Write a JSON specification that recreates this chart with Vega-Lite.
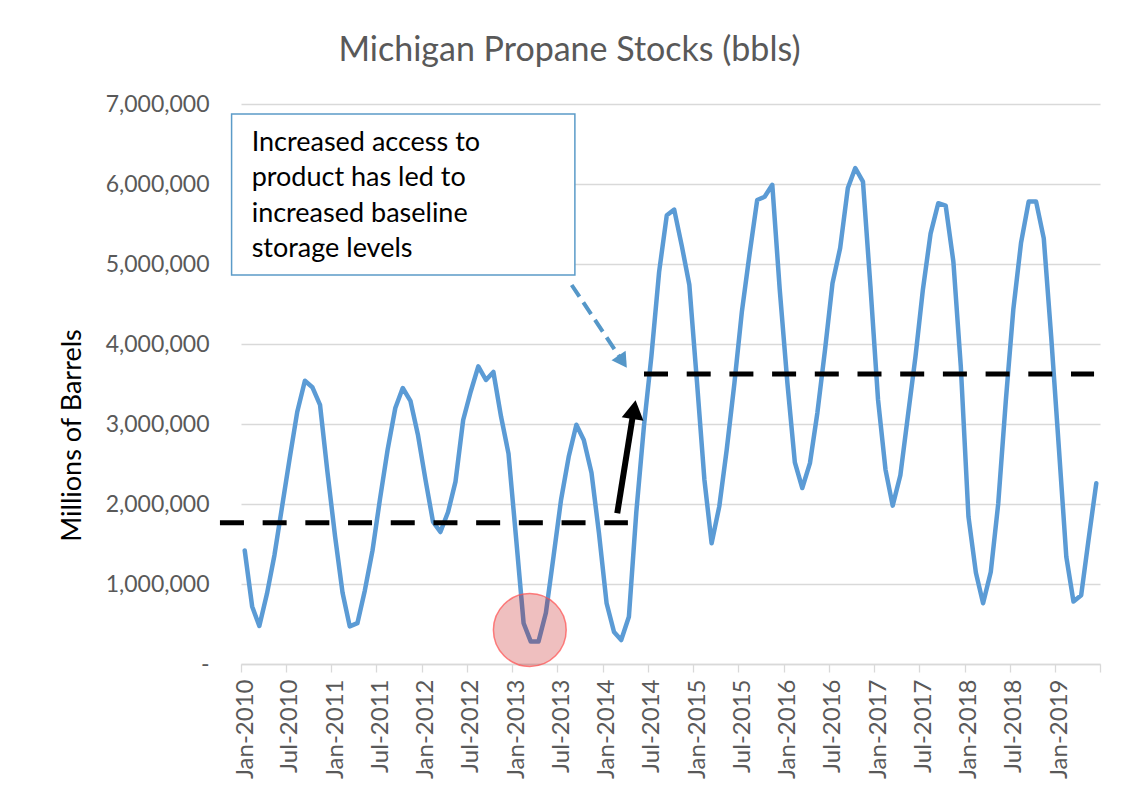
{
  "$schema": "https://vega.github.io/schema/vega-lite/v6.json",
  "width": 859,
  "height": 560,
  "autosize": {"type": "none"},
  "padding": {"left": 241, "top": 104, "right": 27, "bottom": 128},
  "background": "white",
  "config": {"view": {"stroke": null}},
  "title": {
    "text": "Michigan Propane Stocks (bbls)",
    "font": "Lato",
    "fontSize": 34,
    "fontWeight": "normal",
    "color": "#595959",
    "anchor": "middle",
    "frame": "group",
    "dx": -101,
    "baseline": "alphabetic",
    "offset": -1.5
  },
  "datasets": {
    "stocks": [
      {"date": "2010-01-16", "value": 1420000}, {"date": "2010-02-15", "value": 720000}, {"date": "2010-03-16", "value": 475000}, {"date": "2010-04-16", "value": 880000}, {"date": "2010-05-16", "value": 1360000}, {"date": "2010-06-16", "value": 1970000}, {"date": "2010-07-16", "value": 2560000}, {"date": "2010-08-16", "value": 3150000}, {"date": "2010-09-16", "value": 3540000}, {"date": "2010-10-16", "value": 3460000}, {"date": "2010-11-16", "value": 3240000}, {"date": "2010-12-16", "value": 2400000},
      {"date": "2011-01-16", "value": 1590000}, {"date": "2011-02-15", "value": 890000}, {"date": "2011-03-16", "value": 470000}, {"date": "2011-04-16", "value": 510000}, {"date": "2011-05-16", "value": 920000}, {"date": "2011-06-16", "value": 1420000}, {"date": "2011-07-16", "value": 2060000}, {"date": "2011-08-16", "value": 2680000}, {"date": "2011-09-16", "value": 3200000}, {"date": "2011-10-16", "value": 3450000}, {"date": "2011-11-16", "value": 3290000}, {"date": "2011-12-16", "value": 2870000},
      {"date": "2012-01-16", "value": 2300000}, {"date": "2012-02-15", "value": 1780000}, {"date": "2012-03-16", "value": 1650000}, {"date": "2012-04-16", "value": 1900000}, {"date": "2012-05-16", "value": 2280000}, {"date": "2012-06-16", "value": 3050000}, {"date": "2012-07-16", "value": 3400000}, {"date": "2012-08-16", "value": 3720000}, {"date": "2012-09-16", "value": 3550000}, {"date": "2012-10-16", "value": 3650000}, {"date": "2012-11-16", "value": 3090000}, {"date": "2012-12-16", "value": 2630000},
      {"date": "2013-01-16", "value": 1560000}, {"date": "2013-02-15", "value": 510000}, {"date": "2013-03-16", "value": 280000}, {"date": "2013-04-16", "value": 280000}, {"date": "2013-05-16", "value": 640000}, {"date": "2013-06-16", "value": 1350000}, {"date": "2013-07-16", "value": 2050000}, {"date": "2013-08-16", "value": 2590000}, {"date": "2013-09-16", "value": 2990000}, {"date": "2013-10-16", "value": 2800000}, {"date": "2013-11-16", "value": 2390000}, {"date": "2013-12-16", "value": 1640000},
      {"date": "2014-01-16", "value": 760000}, {"date": "2014-02-15", "value": 400000}, {"date": "2014-03-16", "value": 300000}, {"date": "2014-04-16", "value": 590000}, {"date": "2014-05-16", "value": 1900000}, {"date": "2014-06-16", "value": 2980000}, {"date": "2014-07-16", "value": 3850000}, {"date": "2014-08-16", "value": 4900000}, {"date": "2014-09-16", "value": 5610000}, {"date": "2014-10-16", "value": 5680000}, {"date": "2014-11-16", "value": 5220000}, {"date": "2014-12-16", "value": 4740000},
      {"date": "2015-01-16", "value": 3520000}, {"date": "2015-02-15", "value": 2300000}, {"date": "2015-03-16", "value": 1510000}, {"date": "2015-04-16", "value": 1970000}, {"date": "2015-05-16", "value": 2680000}, {"date": "2015-06-16", "value": 3510000}, {"date": "2015-07-16", "value": 4400000}, {"date": "2015-08-16", "value": 5120000}, {"date": "2015-09-16", "value": 5800000}, {"date": "2015-10-16", "value": 5840000}, {"date": "2015-11-16", "value": 5990000}, {"date": "2015-12-16", "value": 4680000},
      {"date": "2016-01-16", "value": 3510000}, {"date": "2016-02-15", "value": 2520000}, {"date": "2016-03-16", "value": 2200000}, {"date": "2016-04-16", "value": 2510000}, {"date": "2016-05-16", "value": 3140000}, {"date": "2016-06-16", "value": 3930000}, {"date": "2016-07-16", "value": 4760000}, {"date": "2016-08-16", "value": 5200000}, {"date": "2016-09-16", "value": 5950000}, {"date": "2016-10-16", "value": 6200000}, {"date": "2016-11-16", "value": 6030000}, {"date": "2016-12-16", "value": 4730000},
      {"date": "2017-01-16", "value": 3300000}, {"date": "2017-02-15", "value": 2430000}, {"date": "2017-03-16", "value": 1980000}, {"date": "2017-04-16", "value": 2360000}, {"date": "2017-05-16", "value": 3090000}, {"date": "2017-06-16", "value": 3840000}, {"date": "2017-07-16", "value": 4680000}, {"date": "2017-08-16", "value": 5380000}, {"date": "2017-09-16", "value": 5760000}, {"date": "2017-10-16", "value": 5730000}, {"date": "2017-11-16", "value": 5030000}, {"date": "2017-12-16", "value": 3720000},
      {"date": "2018-01-16", "value": 1840000}, {"date": "2018-02-15", "value": 1140000}, {"date": "2018-03-16", "value": 760000}, {"date": "2018-04-16", "value": 1150000}, {"date": "2018-05-16", "value": 2000000}, {"date": "2018-06-16", "value": 3300000}, {"date": "2018-07-16", "value": 4430000}, {"date": "2018-08-16", "value": 5260000}, {"date": "2018-09-16", "value": 5780000}, {"date": "2018-10-16", "value": 5780000}, {"date": "2018-11-16", "value": 5320000}, {"date": "2018-12-16", "value": 4090000},
      {"date": "2019-01-16", "value": 2700000}, {"date": "2019-02-15", "value": 1340000}, {"date": "2019-03-16", "value": 780000}, {"date": "2019-04-16", "value": 860000}, {"date": "2019-05-16", "value": 1560000}, {"date": "2019-06-16", "value": 2260000}
    ],
    "levels": [
      {"date": "2009-10-08", "date2": "2014-04-12", "value": 1766000},
      {"date": "2014-06-16", "date2": "2019-06-07", "value": 3625000}
    ],
    "box": [
      {"date": "2009-11-24", "date2": "2013-09-10", "value": 6875000, "value2": 4862500}
    ],
    "note": [
      {"date": "2010-02-13", "value": 6416000, "text": "Increased access to"},
      {"date": "2010-02-13", "value": 5975000, "text": "product has led to"},
      {"date": "2010-02-13", "value": 5529000, "text": "increased baseline"},
      {"date": "2010-02-13", "value": 5091000, "text": "storage levels"}
    ],
    "blueShaft": [
      {"date": "2013-08-28", "date2": "2014-03-07", "value": 4737500, "value2": 3850000}
    ],
    "blueHead": [
      {"date": "2014-03-22", "value": 3780000}
    ],
    "blackShaft": [
      {"date": "2014-02-28", "date2": "2014-05-03", "value": 1884000, "value2": 3125000}
    ],
    "blackHead": [
      {"date": "2014-05-07", "value": 3180000}
    ],
    "trough": [
      {"date": "2013-03-12", "value": 425000}
    ]
  },
  "encoding": {
    "x": {
      "field": "date",
      "type": "temporal",
      "scale": {
        "type": "utc",
        "domain": [
          {"year": 2010, "month": 1, "date": 1, "utc": true},
          {"year": 2019, "month": 7, "date": 1, "utc": true}
        ]
      },
      "axis": {
        "title": null,
        "format": "%b-%Y",
        "tickCount": {"interval": "month", "step": 6},
        "labelExpr": "utcyear(datum.value) == 2019 && utcmonth(datum.value) == 6 ? '' : datum.label",
        "labelAngle": -90,
        "labelAlign": "right",
        "labelBaseline": "middle",
        "labelFont": "Lato",
        "labelFontSize": 24,
        "labelColor": "#595959",
        "labelPadding": 7,
        "labelOffset": 4,
        "labelOverlap": false,
        "labelFlush": false,
        "labelBound": false,
        "tickSize": 8,
        "tickColor": "#d9d9d9",
        "tickWidth": 1.3,
        "domainColor": "#d9d9d9",
        "domainWidth": 1.5,
        "grid": false
      }
    },
    "y": {
      "field": "value",
      "type": "quantitative",
      "scale": {"domain": [0, 7000000], "nice": false, "zero": false},
      "axis": {
        "values": [0, 1000000, 2000000, 3000000, 4000000, 5000000, 6000000, 7000000],
        "labelExpr": "datum.value == 0 ? '-\u00a0\u00a0\u00a0' : format(datum.value, ',')",
        "labelFont": "Lato",
        "labelFontSize": 23,
        "labelColor": "#595959",
        "labelPadding": 32,
        "ticks": false,
        "domain": false,
        "grid": true,
        "gridColor": "#d9d9d9",
        "gridWidth": 1.3,
        "title": "Millions of Barrels",
        "titleFont": "Lato",
        "titleFontSize": 27,
        "titleFontWeight": "normal",
        "titleColor": "#000000",
        "titleAngle": -90,
        "titleAlign": "center",
        "titleBaseline": "middle",
        "titleX": -169,
        "titleY": 331
      }
    }
  },
  "layer": [
    {
      "data": {"name": "box"},
      "mark": {"type": "rect", "fill": "white", "stroke": "#5b9bc8", "strokeWidth": 1.5},
      "encoding": {"x2": {"field": "date2"}, "y2": {"field": "value2"}}
    },
    {
      "data": {"name": "note"},
      "mark": {"type": "text", "font": "Lato", "fontSize": 27, "color": "#000000", "align": "left", "baseline": "alphabetic"},
      "encoding": {"text": {"field": "text"}}
    },
    {
      "data": {"name": "stocks"},
      "mark": {"type": "line", "color": "#5b9bd5", "strokeWidth": 4.5, "strokeJoin": "round", "strokeCap": "round"},
      "encoding": {}
    },
    {
      "data": {"name": "levels"},
      "mark": {"type": "rule", "color": "#000000", "strokeWidth": 5, "strokeDash": [24, 18.7], "strokeCap": "butt"},
      "encoding": {"x2": {"field": "date2"}}
    },
    {
      "data": {"name": "blueShaft"},
      "mark": {"type": "rule", "color": "#5597c8", "strokeWidth": 4, "strokeDash": [14, 7], "strokeCap": "butt"},
      "encoding": {"x2": {"field": "date2"}, "y2": {"field": "value2"}}
    },
    {
      "data": {"name": "blueHead"},
      "mark": {"type": "point", "shape": "triangle-up", "filled": true, "color": "#5597c8", "opacity": 1, "size": 290, "angle": 146},
      "encoding": {}
    },
    {
      "data": {"name": "blackShaft"},
      "mark": {"type": "rule", "color": "#000000", "strokeWidth": 6, "strokeCap": "butt"},
      "encoding": {"x2": {"field": "date2"}, "y2": {"field": "value2"}}
    },
    {
      "data": {"name": "blackHead"},
      "mark": {"type": "point", "shape": "triangle-up", "filled": true, "color": "#000000", "opacity": 1, "size": 484, "angle": 9},
      "encoding": {}
    },
    {
      "data": {"name": "trough"},
      "mark": {"type": "point", "shape": "circle", "filled": true, "fill": "#c00000", "fillOpacity": 0.25, "stroke": "#ff4d4d", "strokeOpacity": 0.7, "strokeWidth": 1.5, "size": 5300},
      "encoding": {}
    }
  ]
}
